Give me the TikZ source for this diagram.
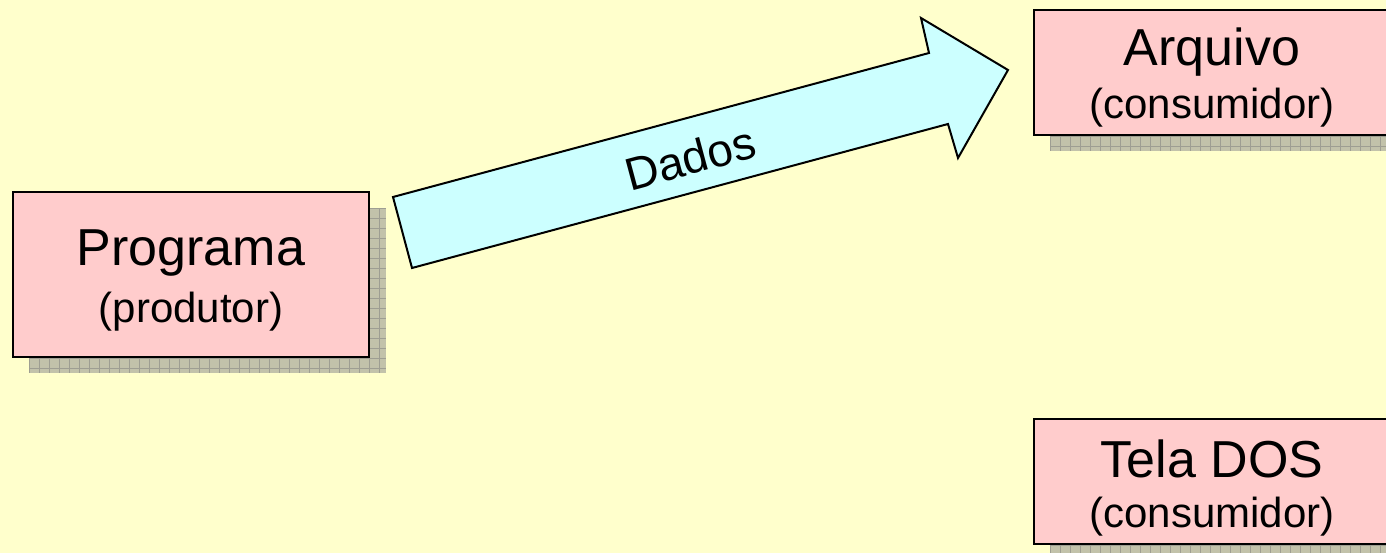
\documentclass[tikz,border=0pt]{standalone}
\usepackage{fontspec}
\setmainfont{Liberation Sans}
\definecolor{bgyellow}{HTML}{FFFFCC}
\definecolor{boxpink}{HTML}{FFCCCC}
\definecolor{arrowcyan}{HTML}{CCFFFF}
\definecolor{shadefill}{HTML}{C2C2AA}
\definecolor{shadeline}{HTML}{9E9E92}
\tikzset{
  procbox/.style={draw=black, line width=2.5pt, fill=boxpink, minimum width=356pt, inner sep=0pt},
  bigtxt/.style={font=\fontsize{52}{60}\selectfont},
  smalltxt/.style={font=\fontsize{42}{50}\selectfont},
  arrowtxt/.style={font=\fontsize{46}{54}\selectfont},
  flowarrow/.style={draw=black, line width=2pt, fill=arrowcyan, line join=miter},
}
\newcommand{\gridshadow}[4]{%
  \begin{scope}
    \clip (#1,#2) rectangle (#3,#4);
    \fill[shadefill] (#1,#2) rectangle (#3,#4);
    \foreach \gx in {0,10,...,400} {\draw[shadeline,line width=0.7pt] ({#1+\gx},#2) -- ({#1+\gx},#4);}
    \foreach \gy in {0,10,...,200} {\draw[shadeline,line width=0.7pt] (#1,{#2+\gy}) -- (#3,{#2+\gy});}
  \end{scope}}
\begin{document}
\begin{tikzpicture}[x=1pt,y=-1pt]
\fill[bgyellow] (0,0) rectangle (1386,553);
\useasboundingbox (0,0) rectangle (1386,553);
% shadows
\gridshadow{29}{208}{386}{373}
\gridshadow{1050}{26}{1406}{151}
\gridshadow{1050}{435}{1406}{560}
% boxes
\node[procbox, minimum height=165pt] (prog) at (191,274.5) {};
\node[bigtxt] (progt) at (191,253) {Programa};
\node[smalltxt] (progs) at (191,312) {(produtor)};
\node[procbox, minimum height=125pt] (arq) at (1212,72.5) {};
\node[bigtxt] (arqt) at (1212,52) {Arquivo};
\node[smalltxt] (arqs) at (1212,108) {(consumidor)};
\node[procbox, minimum height=125pt] (tela) at (1212,481.5) {};
\node[bigtxt] (telat) at (1212,459) {Tela DOS};
\node[smalltxt] (telas) at (1212,517) {(consumidor)};
% arrow
\coordinate (a1) at (393,197);
\coordinate (a2) at (929,53);
\coordinate (a3) at (921,18);
\coordinate (a4) at (1008,70);
\coordinate (a5) at (958,158);
\coordinate (a6) at (948,124);
\coordinate (a7) at (412,268);
\draw[flowarrow] (a1) -- (a2) -- (a3) -- (a4) -- (a5) -- (a6) -- (a7) -- cycle;
\node[arrowtxt, rotate=15] (dados) at (690,158) {Dados};
\end{tikzpicture}
\end{document}
